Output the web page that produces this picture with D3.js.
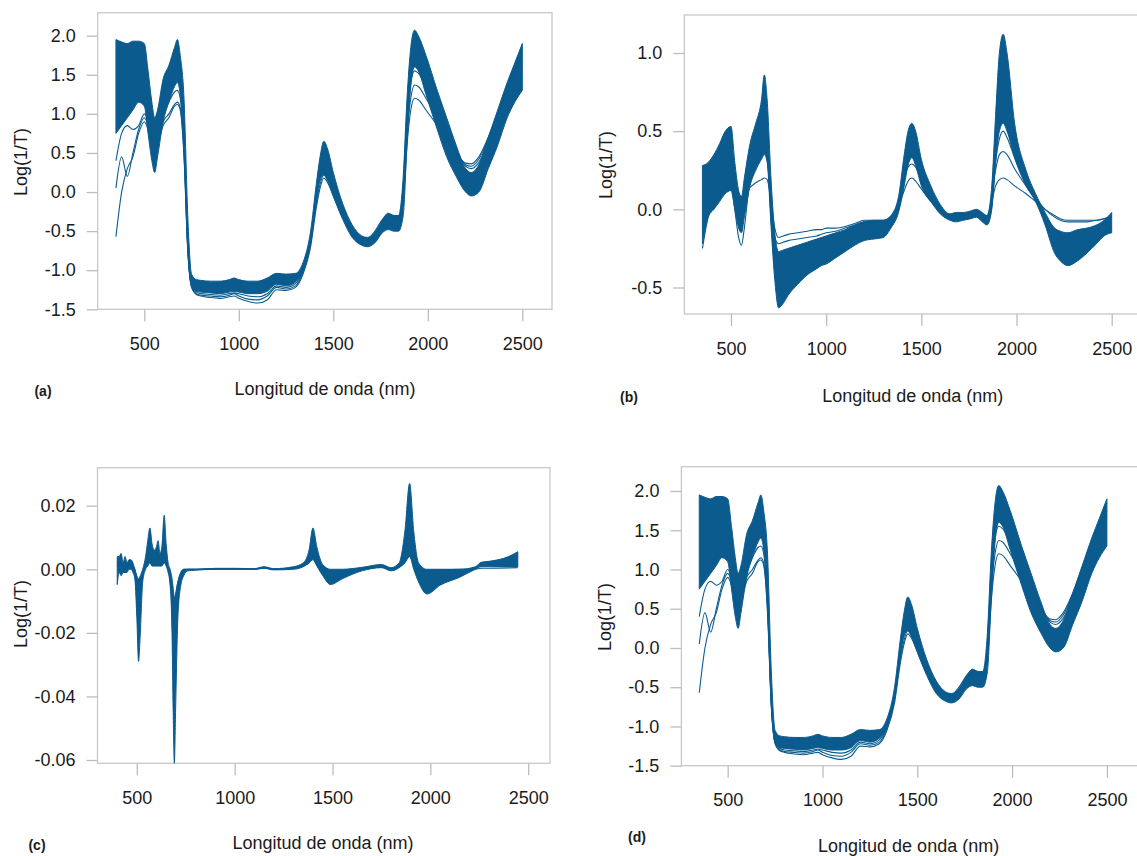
<!DOCTYPE html>
<html>
<head>
<meta charset="utf-8">
<script src="https://cdn.jsdelivr.net/npm/d3@7"></script>
<style>
  body { margin: 0; background: #fff; }
  svg text { font-family: "Liberation Sans", Arial, sans-serif; fill: #1b1b1b; }
</style>
</head>
<body>
<svg id="chart" width="1137" height="856"></svg>
<script>
// wavelengths (nm) used by panels a, b, d
var wavelengths = [
  350, 380, 410, 440, 470,
  500, 520, 540, 555, 570,
  600, 630, 660, 675, 690,
  710, 730, 750, 775, 800,
  850, 900, 950, 975, 1000,
  1050, 1100, 1150, 1200, 1250,
  1300, 1340, 1380, 1410, 1430,
  1450, 1470, 1500, 1550, 1600,
  1650, 1680, 1720, 1760, 1790,
  1820, 1845, 1870, 1890, 1910,
  1930, 1950, 1990, 2050, 2100,
  2150, 2200, 2230, 2270, 2320,
  2370, 2420, 2460, 2500
];

// panel (a) raw spectra: top / bottom of the dense bundle + single curves
var aUpper = [
  1.95, 1.92, 1.90, 1.93, 1.93,
  1.90, 1.55, 1.15, 0.95, 1.05,
  1.45, 1.62, 1.85, 1.95, 1.75,
  1.20, -0.30, -1.05, -1.12, -1.13,
  -1.14, -1.14, -1.12, -1.10, -1.12,
  -1.14, -1.14, -1.10, -1.04, -1.05,
  -1.04, -0.90, -0.50, 0.10, 0.45,
  0.65, 0.55, 0.25, -0.15, -0.42,
  -0.56, -0.58, -0.52, -0.36, -0.27,
  -0.30, -0.30, 0.20, 1.20, 1.85,
  2.07, 2.00, 1.75, 1.30, 0.95,
  0.60, 0.30, 0.25, 0.35, 0.70,
  1.05, 1.40, 1.65, 1.90
];
var aLower = [
  0.75, 0.85, 0.95, 1.05, 1.15,
  1.10, 0.75, 0.40, 0.25, 0.45,
  0.90, 1.15, 1.35, 1.40, 1.25,
  0.60, -0.70, -1.20, -1.27, -1.28,
  -1.29, -1.30, -1.28, -1.27, -1.28,
  -1.30, -1.30, -1.27, -1.18, -1.20,
  -1.15, -1.00, -0.65, -0.10, 0.15,
  0.22, 0.15, -0.05, -0.35, -0.58,
  -0.68, -0.70, -0.65, -0.52, -0.48,
  -0.50, -0.50, -0.30, 0.60, 1.35,
  1.60, 1.55, 1.25, 0.80, 0.45,
  0.20, 0.00, -0.05, 0.00, 0.30,
  0.60, 0.95, 1.15, 1.30
];
var aCurve1 = [
  -0.57, 0.00, 0.30, 0.45, 0.75,
  0.90, 0.80, 0.60, 0.50, 0.60,
  0.85, 0.95, 1.10, 1.12, 1.05,
  0.45, -0.75, -1.22, -1.31, -1.33,
  -1.35, -1.36, -1.34, -1.33, -1.36,
  -1.40, -1.42, -1.38, -1.25, -1.26,
  -1.22, -1.05, -0.70, -0.20, 0.05,
  0.18, 0.12, -0.05, -0.32, -0.52,
  -0.60, -0.60, -0.52, -0.38, -0.30,
  -0.33, -0.33, -0.10, 0.60, 1.05,
  1.20, 1.18, 1.05, 0.85, 0.65,
  0.50, 0.37, 0.36, 0.45, 0.70,
  1.00, 1.35, 1.60, 1.85
];
var aCurve2 = [
  0.05, 0.45, 0.20, 0.50, 0.80,
  0.95, 0.85, 0.65, 0.55, 0.65,
  0.90, 1.00, 1.12, 1.15, 1.08,
  0.50, -0.72, -1.21, -1.30, -1.32,
  -1.33, -1.34, -1.32, -1.30, -1.33,
  -1.37, -1.38, -1.33, -1.22, -1.24,
  -1.20, -1.02, -0.65, -0.15, 0.10,
  0.22, 0.15, -0.02, -0.30, -0.50,
  -0.58, -0.59, -0.50, -0.35, -0.28,
  -0.30, -0.31, 0.00, 0.75, 1.20,
  1.37, 1.35, 1.20, 0.95, 0.72,
  0.52, 0.35, 0.33, 0.42, 0.68,
  1.00, 1.32, 1.55, 1.75
];
var aCurve3 = [
  0.40, 0.75, 0.85, 0.80, 0.85,
  1.00, 0.90, 0.70, 0.60, 0.70,
  1.00, 1.15, 1.28, 1.30, 1.20,
  0.55, -0.72, -1.20, -1.28, -1.30,
  -1.31, -1.32, -1.30, -1.29, -1.30,
  -1.33, -1.34, -1.30, -1.20, -1.22,
  -1.17, -1.00, -0.62, -0.10, 0.20,
  0.30, 0.22, 0.00, -0.30, -0.50,
  -0.60, -0.61, -0.55, -0.40, -0.32,
  -0.35, -0.35, 0.05, 0.90, 1.40,
  1.55, 1.52, 1.35, 1.05, 0.80,
  0.55, 0.33, 0.30, 0.38, 0.65,
  0.98, 1.30, 1.52, 1.70
];

// panel (b)
var bUpper = [
  0.28, 0.30, 0.35, 0.42, 0.50,
  0.53, 0.30, 0.12, 0.08, 0.20,
  0.42, 0.55, 0.70, 0.86, 0.70,
  0.20, -0.15, -0.27, -0.26, -0.25,
  -0.23, -0.21, -0.19, -0.18, -0.17,
  -0.15, -0.13, -0.10, -0.08, -0.07,
  -0.07, -0.04, 0.08, 0.35, 0.50,
  0.55, 0.50, 0.32, 0.15, 0.03,
  -0.03, -0.02, -0.02, -0.01, 0.00,
  -0.02, -0.04, 0.15, 0.60, 1.00,
  1.12, 1.00, 0.55, 0.25, 0.10,
  -0.02, -0.12, -0.14, -0.15, -0.13,
  -0.12, -0.10, -0.07, -0.02
];
var bLower = [
  -0.22, -0.05, 0.00, 0.05, 0.10,
  0.12, 0.00, -0.12, -0.15, -0.05,
  0.15, 0.25, 0.32, 0.35, 0.30,
  -0.10, -0.45, -0.63, -0.60, -0.55,
  -0.48, -0.42, -0.38, -0.36, -0.35,
  -0.31, -0.27, -0.23, -0.20, -0.19,
  -0.18, -0.12, -0.02, 0.15, 0.28,
  0.33, 0.28, 0.15, 0.05, -0.03,
  -0.07, -0.08, -0.07, -0.06, -0.05,
  -0.08, -0.10, 0.00, 0.30, 0.50,
  0.55, 0.50, 0.33, 0.15, 0.05,
  -0.10, -0.28, -0.33, -0.36, -0.33,
  -0.28, -0.22, -0.17, -0.15
];
var bCurve1 = [
  0.10, 0.08, 0.08, 0.10, 0.12,
  0.13, 0.12, 0.10, 0.08, 0.10,
  0.14, 0.17, 0.19, 0.20, 0.19,
  0.05, -0.12, -0.18, -0.17, -0.16,
  -0.15, -0.14, -0.13, -0.13, -0.12,
  -0.12, -0.11, -0.09, -0.07, -0.07,
  -0.07, -0.05, 0.02, 0.12, 0.18,
  0.20, 0.18, 0.13, 0.05, 0.00,
  -0.03, -0.03, -0.03, -0.02, -0.02,
  -0.03, -0.04, 0.05, 0.15, 0.19,
  0.20, 0.19, 0.15, 0.10, 0.05,
  0.00, -0.04, -0.06, -0.07, -0.07,
  -0.07, -0.07, -0.06, -0.05
];
var bCurve2 = [
  0.12, 0.10, 0.12, 0.15, 0.18,
  0.20, 0.12, 0.02, 0.00, 0.08,
  0.22, 0.30, 0.36, 0.38, 0.33,
  0.00, -0.18, -0.22, -0.21, -0.20,
  -0.19, -0.18, -0.17, -0.16, -0.15,
  -0.14, -0.12, -0.10, -0.08, -0.08,
  -0.08, -0.05, 0.05, 0.20, 0.27,
  0.29, 0.27, 0.18, 0.07, 0.00,
  -0.04, -0.04, -0.03, -0.02, -0.02,
  -0.04, -0.06, 0.08, 0.25, 0.35,
  0.37, 0.35, 0.26, 0.15, 0.07,
  0.00, -0.05, -0.07, -0.08, -0.08,
  -0.08, -0.07, -0.06, -0.04
];
var bCurve3 = [
  -0.25, -0.05, 0.05, 0.10, 0.15,
  0.15, 0.00, -0.18, -0.23, -0.12,
  0.20, 0.30, 0.40, 0.45, 0.38,
  -0.05, -0.40, -0.55, -0.53, -0.50,
  -0.45, -0.40, -0.36, -0.34, -0.33,
  -0.29, -0.25, -0.21, -0.18, -0.17,
  -0.16, -0.10, 0.00, 0.18, 0.30,
  0.34, 0.30, 0.18, 0.07, -0.02,
  -0.06, -0.07, -0.06, -0.05, -0.04,
  -0.07, -0.09, 0.02, 0.30, 0.45,
  0.50, 0.46, 0.33, 0.17, 0.06,
  -0.08, -0.25, -0.30, -0.33, -0.30,
  -0.26, -0.20, -0.15, -0.12
];

// panel (c) has its own wavelength grid (400-2447 nm)
var cWavelengths = [
  400, 410, 420, 430, 440,
  450, 460, 470, 480, 490,
  500, 509, 518, 530, 545,
  556, 567, 578, 590, 600,
  609, 618, 628, 640, 650,
  660, 670, 680, 686, 692,
  698, 710, 725, 740, 760,
  800, 900, 1000, 1100, 1150,
  1200, 1300, 1350, 1380, 1400,
  1420, 1450, 1490, 1550, 1650,
  1750, 1800, 1840, 1870, 1894,
  1915, 1940, 1982, 2050, 2150,
  2230, 2260, 2300, 2400, 2447
];
var cUpper = [
  0.004, 0.004, 0.005, 0.002, 0.004,
  0.002, 0.003, 0.003, 0.002, 0.000,
  -0.002, -0.003, -0.002, 0.000, 0.004,
  0.009, 0.013, 0.008, 0.006, 0.007,
  0.009, 0.005, 0.007, 0.017, 0.008,
  0.002, 0.000, -0.003, -0.006, -0.009,
  -0.008, -0.004, -0.001, 0.000, 0.000,
  0.000, 0.0003, 0.0003, 0.0002, 0.0008,
  0.0002, 0.0008, 0.002, 0.006, 0.013,
  0.007, 0.0015, 0.000, 0.000, 0.0006,
  0.0015, 0.0005, 0.002, 0.012, 0.027,
  0.012, 0.002, 0.000, 0.000, 0.000,
  0.0008, 0.0022, 0.0025, 0.004, 0.0055
];
var cLower = [
  -0.0048, -0.001, -0.002, -0.001, -0.001,
  -0.001, 0.000, 0.000, -0.001, -0.003,
  -0.015, -0.029, -0.020, -0.004, 0.000,
  0.001, 0.002, 0.001, 0.001, 0.001,
  0.001, 0.001, 0.001, 0.002, 0.001,
  -0.001, -0.005, -0.020, -0.045, -0.061,
  -0.045, -0.015, -0.005, -0.002, -0.0005,
  -0.0003, 0.000, 0.000, 0.000, 0.0003,
  -0.0002, 0.000, 0.0008, 0.002, 0.003,
  0.001, -0.002, -0.0048, -0.003, -0.0005,
  0.0005, -0.0005, 0.0005, 0.002, 0.004,
  0.000, -0.004, -0.0078, -0.005, -0.0025,
  0.000, 0.0008, 0.0008, 0.0007, 0.0007
];
var cCurve1 = [
  0.001, 0.002, 0.002, 0.001, 0.002,
  0.001, 0.002, 0.002, 0.001, 0.000,
  -0.003, -0.006, -0.004, -0.001, 0.001,
  0.002, 0.003, 0.002, 0.002, 0.002,
  0.003, 0.002, 0.002, 0.004, 0.002,
  0.000, -0.002, -0.005, -0.008, -0.010,
  -0.008, -0.004, -0.001, 0.000, 0.000,
  0.000, 0.000, 0.000, 0.000, 0.0004,
  0.000, 0.0004, 0.001, 0.002, 0.004,
  0.002, 0.000, -0.001, -0.0008, 0.000,
  0.0008, 0.000, 0.001, 0.003, 0.004,
  0.002, 0.000, -0.0003, -0.0002, 0.000,
  0.000, 0.0003, 0.0003, 0.0004, 0.0005
];
var cCurve2 = [
  0.002, 0.003, 0.000, 0.002, 0.001,
  0.002, 0.001, 0.002, 0.000, -0.002,
  -0.008, -0.018, -0.010, -0.002, 0.002,
  0.005, 0.009, 0.004, 0.003, 0.004,
  0.006, 0.003, 0.004, 0.011, 0.004,
  0.000, -0.003, -0.012, -0.028, -0.040,
  -0.030, -0.010, -0.003, -0.001, 0.000,
  0.000, 0.0002, 0.0002, 0.0001, 0.0006,
  0.000, 0.0005, 0.0015, 0.004, 0.008,
  0.004, 0.000, -0.003, -0.002, 0.000,
  0.001, 0.000, 0.001, 0.007, 0.016,
  0.006, -0.002, -0.005, -0.003, -0.0015,
  0.0004, 0.0015, 0.0016, 0.0025, 0.003
];

// tick values
var ticksX = [500, 1000, 1500, 2000, 2500];
var ticksRaw = [-1.5, -1.0, -0.5, 0.0, 0.5, 1.0, 1.5, 2.0];
var ticksB = [-0.5, 0.0, 0.5, 1.0];
var ticksC = [-0.06, -0.04, -0.02, 0.00, 0.02];

var xTitle = "Longitud de onda (nm)";
var yTitle = "Log(1/T)";
var color = "#0b5b8e";

// layout of the four panels (pixel positions of box and tick anchors)
var panels = [
  { tag: "(a)", wl: wavelengths, upper: aUpper, lower: aLower, curves: [aCurve1, aCurve2, aCurve3],
    box: [97.7, 12.7, 552, 309.3], xRange: [144.3, 522.3], yDomain: [2.0, -1.5], yRange: [35.7, 309.3],
    yTicks: ticksRaw, digits: 1, tagPos: [43, 391], xTitlePos: [325, 389], yTitlePos: [21, 162] },
  { tag: "(b)", wl: wavelengths, upper: bUpper, lower: bLower, curves: [bCurve1, bCurve2, bCurve3],
    box: [684.3, 15, 1142, 314], xRange: [731, 1111.7], yDomain: [1.0, -0.5], yRange: [53, 287.5],
    yTicks: ticksB, digits: 1, tagPos: [629, 397], xTitlePos: [912.7, 396], yTitlePos: [606, 165] },
  { tag: "(c)", wl: cWavelengths, upper: cUpper, lower: cLower, curves: [cCurve1, cCurve2],
    box: [97.5, 467.7, 550, 763.3], xRange: [136.8, 528.2], yDomain: [0.02, -0.06], yRange: [505.7, 760],
    yTicks: ticksC, digits: 2, tagPos: [37, 845], xTitlePos: [323, 843], yTitlePos: [21, 614] },
  { tag: "(d)", wl: wavelengths, upper: aUpper, lower: aLower, curves: [aCurve1, aCurve2, aCurve3],
    box: [681.4, 466.7, 1142, 765.7], xRange: [727.7, 1106.9], yDomain: [2.0, -1.5], yRange: [491, 765.7],
    yTicks: ticksRaw, digits: 1, tagPos: [637, 837], xTitlePos: [908.6, 846], yTitlePos: [605, 617] }
];

var svg = d3.select("#chart");

panels.forEach(function(p) {
  var x = d3.scaleLinear().domain([500, 2500]).range(p.xRange);
  var y = d3.scaleLinear().domain(p.yDomain).range(p.yRange);
  var g = svg.append("g");

  // frame
  g.append("rect")
    .attr("x", p.box[0]).attr("y", p.box[1])
    .attr("width", p.box[2] - p.box[0]).attr("height", p.box[3] - p.box[1])
    .attr("fill", "none").attr("stroke", "#c8c8c8").attr("stroke-width", 1.3);

  // dense bundle of spectra
  var rows = p.wl.map(function(w, i) { return { w: w, lo: p.lower[i], hi: p.upper[i] }; });
  var area = d3.area()
    .x(function(d) { return x(d.w); })
    .y0(function(d) { return y(d.lo); })
    .y1(function(d) { return y(d.hi); })
    .curve(d3.curveMonotoneX);
  g.append("path").datum(rows)
    .attr("d", area)
    .attr("fill", color)
    .attr("stroke", color).attr("stroke-width", 1);

  // single spectra outside the bundle
  var line = d3.line()
    .x(function(d) { return x(d[0]); })
    .y(function(d) { return y(d[1]); })
    .curve(d3.curveMonotoneX);
  p.curves.forEach(function(c) {
    g.append("path").datum(p.wl.map(function(w, i) { return [w, c[i]]; }))
      .attr("d", line)
      .attr("fill", "none")
      .attr("stroke", color).attr("stroke-width", 1.1);
  });

  // y axis
  var yAxis = d3.axisLeft(y)
    .tickValues(p.yTicks)
    .tickSize(11).tickPadding(11)
    .tickFormat(function(d) { return d.toFixed(p.digits); });
  var ya = g.append("g")
    .attr("transform", "translate(" + p.box[0] + ",0)")
    .call(yAxis);
  ya.select(".domain").remove();

  // x axis
  var xAxis = d3.axisBottom(x)
    .tickValues(ticksX)
    .tickSize(12).tickPadding(16)
    .tickFormat(d3.format("d"));
  var xa = g.append("g")
    .attr("transform", "translate(0," + p.box[3] + ")")
    .call(xAxis);
  xa.select(".domain").remove();

  [ya, xa].forEach(function(a) {
    a.attr("font-family", "Liberation Sans, Arial, sans-serif").attr("font-size", 18);
    a.selectAll(".tick line").attr("stroke", "#bdbdbd").attr("stroke-width", 1.3);
    a.selectAll(".tick text").attr("fill", "#1b1b1b");
  });

  // titles
  g.append("text")
    .attr("x", p.xTitlePos[0]).attr("y", p.xTitlePos[1])
    .attr("text-anchor", "middle").attr("dominant-baseline", "central")
    .attr("font-size", 18)
    .text(xTitle);
  g.append("text")
    .attr("transform", "translate(" + p.yTitlePos[0] + "," + p.yTitlePos[1] + ") rotate(-90)")
    .attr("text-anchor", "middle").attr("dominant-baseline", "central")
    .attr("font-size", 18)
    .text(yTitle);
  g.append("text")
    .attr("x", p.tagPos[0]).attr("y", p.tagPos[1])
    .attr("text-anchor", "middle").attr("dominant-baseline", "central")
    .attr("font-size", 14).attr("font-weight", "bold")
    .text(p.tag);
});
</script>
</body>
</html>
